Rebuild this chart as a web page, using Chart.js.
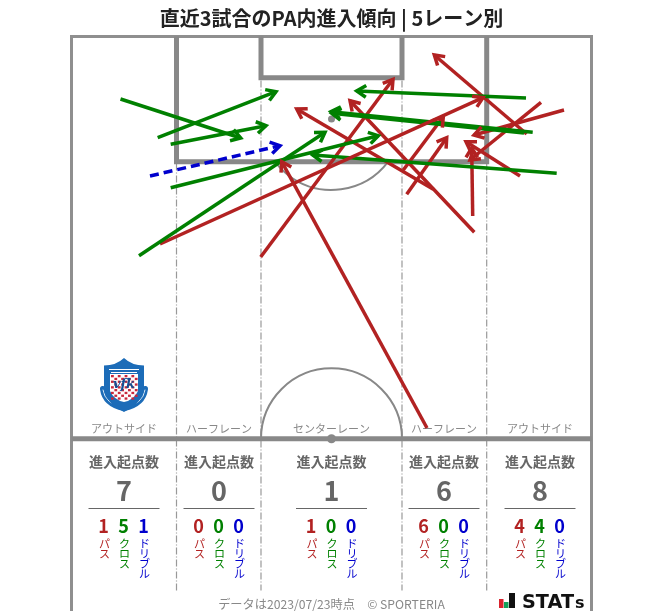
<!DOCTYPE html>
<html lang="ja">
<head>
<meta charset="utf-8">
<style>html,body{margin:0;padding:0;background:#fff}canvas{display:block}</style>
<script src="https://cdn.jsdelivr.net/npm/chart.js@4/dist/chart.umd.min.js"></script>
</head>
<body>
<canvas id="c" width="663" height="611"></canvas>
<script>
// Arrows in pitch units: [fromX, fromY, toX, toY]; x from left touchline, y from the goal line
const passArrows = [
  [355.5,391.5,210.2,125.2],[88.5,207.5,411.5,61.2],[189.2,220.5,321.5,42.8],
  [361.8,152.8,225.2,72.5],[402.8,195.8,278.5,64.2],[331.8,133.5,371.8,80.2],
  [335.2,157.8,375.2,101.2],[401.2,179.5,400.2,111.5],[455.2,97.5,362.8,18.5],
  [469.5,65.8,398.5,123.5],[492.5,73.5,402.5,98.5],[448.5,139.5,394.5,105.2]
];
const crossArrows = [
  [49,62.5,169.2,101.5],[86.2,101.2,204.5,55.2],[99.2,107.8,194.5,89.2],
  [99.2,151.2,306.8,99.2],[67.5,219.2,253.5,95.8],[485.2,136.8,241.2,118.5],
  [454.5,61.5,285.2,54.5],[461.2,95.8,259.5,75.2],[452.5,96.5,260.2,76.8]
];
const dribbleArrows = [[78.5,139.5,208.5,109.2]];
const laneNames = ['アウトサイド','ハーフレーン','センターレーン','ハーフレーン','アウトサイド'];
const totals = [7,0,1,6,8];
const passes = [1,0,1,6,4];
const crosses = [5,0,0,0,4];
const dribbles = [1,0,0,0,0];
const titleText = '直近3試合のPA内進入傾向 | 5レーン別';
const footerText = 'データは2023/07/23時点　© SPORTERIA';

const FONT = '"Noto Sans CJK JP","Noto Sans",sans-serif';
const RED = '#b22222', GREEN = '#008000', BLUE = '#0000cd', GRAY = '#888888', TEXT = '#666666';
const laneX = [124,219,331.5,444,540];

function arrowSet(list, color, dash){
  return list.map(a => ({
    data:[{x:a[0],y:a[1]},{x:a[2],y:a[3]}],
    showLine:true, pointRadius:0, borderColor:color, borderWidth:3.5,
    borderDash:dash||[], borderCapStyle:'butt', clip:false, arrowHead:true
  }));
}

const pitchPlugin = {
  id:'pitch',
  beforeDatasetsDraw(chart){
    const c = chart.ctx, X = v=>chart.scales.x.getPixelForValue(v), Y = v=>chart.scales.y.getPixelForValue(v);
    const line = (pts,w,col,dash)=>{
      c.save();c.beginPath();c.lineWidth=w;c.strokeStyle=col;c.setLineDash(dash||[]);c.lineCap='butt';c.lineJoin='miter';
      pts.forEach((p,i)=>i?c.lineTo(X(p[0]),Y(p[1])):c.moveTo(X(p[0]),Y(p[1])));c.stroke();c.restore();
    };
    // lane separators
    const dd=[7,2,1,2];
    line([[105,127],[105,554]],1.2,'#999',dd);
    line([[189.5,44],[189.5,554]],1.2,'#999',dd);
    line([[330.5,44],[330.5,554]],1.2,'#999',dd);
    line([[415.2,127],[415.2,554]],1.2,'#999',dd);
    // arcs
    c.save();c.lineWidth=2;c.strokeStyle=GRAY;
    c.beginPath();c.arc(X(260),Y(402.3),70.5,Math.PI,0);c.stroke();
    c.beginPath();c.arc(X(260),Y(82.5),71,0.65,Math.PI-0.65);c.stroke();
    c.fillStyle=GRAY;
    c.beginPath();c.arc(X(260),Y(82.5),3.5,0,7);c.fill();
    c.beginPath();c.arc(X(260),Y(402.3),4.5,0,7);c.fill();
    c.restore();
    // boxes and lines
    line([[0,574.5],[0,0],[520,0],[520,574.5]],3,'#8f8f8f');
    line([[105,0],[105,125.3],[415.2,125.3],[415.2,0]],5,GRAY);
    line([[189.5,0],[189.5,41.2],[330.5,41.2],[330.5,0]],5,GRAY);
    line([[0,402.3],[520,402.3]],5,GRAY);

    // lane labels and counts
    c.save();c.textAlign='center';c.textBaseline='middle';
    laneNames.forEach((n,i)=>{
      const x=laneX[i];
      c.font='11px '+FONT;c.fillStyle=GRAY;c.fillText(n,x,428.5);
      c.font='bold 14px '+FONT;c.fillStyle=TEXT;c.fillText('進入起点数',x,462);
      c.font='bold 27px '+FONT;c.fillText(String(totals[i]),x,491);
      c.fillRect(x-35.5,508,71,1);
      const rows=[[passes[i],RED,'パス',-20],[crosses[i],GREEN,'クロス',0],[dribbles[i],BLUE,'ドリブル',20]];
      rows.forEach(r=>{
        c.fillStyle=r[1];
        c.font='bold 18px '+FONT;c.fillText(String(r[0]),x+r[3]-0.5,526);
        c.font='11px '+FONT;
        Array.from(r[2]).forEach((ch,k)=>c.fillText(ch,x+r[3]+0.5,543.5+k*10));
      });
    });
    c.font='12.2px '+FONT;c.fillStyle='#888';c.fillText(footerText,331.5,604);
    c.restore();

    // club badge
    c.save();c.translate(124,385);
    const shield=(w,h)=>{c.beginPath();c.moveTo(-w,-h*0.72);c.quadraticCurveTo(-w*0.4,-h*0.72,0,-h);c.quadraticCurveTo(w*0.4,-h*0.72,w,-h*0.72);
      c.lineTo(w,h*0.25);c.quadraticCurveTo(w*0.75,h*0.75,0,h);c.quadraticCurveTo(-w*0.75,h*0.75,-w,h*0.25);c.closePath();};
    // side ribbon
    c.strokeStyle='#1c6cb8';c.lineWidth=6;c.lineCap='round';c.beginPath();c.moveTo(-21,4);c.quadraticCurveTo(-19,19,0,23);c.quadraticCurveTo(19,19,21,4);c.stroke();
    c.strokeStyle='#d8e8f6';c.lineWidth=1;c.beginPath();c.moveTo(-21,5);c.quadraticCurveTo(-19,19,0,23);c.quadraticCurveTo(19,19,21,5);c.stroke();
    // shield
    c.fillStyle='#1c6cb8';shield(20,27);c.fill();
    c.fillStyle='#fff';c.fillRect(-15,-16,30,1);
    c.fillRect(-13,-13,26,1);
    c.beginPath();c.moveTo(-14,-11);c.lineTo(14,-11);c.lineTo(14,6);c.quadraticCurveTo(10,15,0,17);c.quadraticCurveTo(-10,15,-14,6);c.closePath();c.fill();
    c.fillStyle='#c8283c';
    for(let r=0;r<9;r++)for(let q=0;q<8;q++){ if((r+q)%2===0) c.fillRect(-13+q*3.4,-10+r*2.8,2.8,2.3); }
    c.fillStyle='#164f94';c.font='bold italic 13px "DejaVu Serif",serif';c.textAlign='center';c.textBaseline='middle';c.fillText('vfk',0,0);
    c.restore();

    // STATS mark
    c.save();
    c.fillStyle='#d9232e';c.fillRect(499,599,4.5,9);
    c.fillStyle='#12a05a';c.fillRect(504,602,4.5,6);
    c.fillStyle='#111';c.fillRect(509,593,6,15);
    c.font='bold 19.5px "DejaVu Sans",sans-serif';c.textAlign='left';c.textBaseline='alphabetic';
    c.fillText('STAT',522,608,52);
    c.font='bold 16px "DejaVu Sans",sans-serif';c.fillText('s',575,608,11);
    c.restore();
  },
  afterDatasetsDraw(chart){
    const c = chart.ctx;
    chart.data.datasets.forEach((ds,i)=>{
      if(!ds.arrowHead) return;
      const pts = chart.getDatasetMeta(i).data, a=pts[0], b=pts[1];
      const t = Math.atan2(b.y-a.y,b.x-a.x), L=11, s=0.56;
      c.save();c.strokeStyle=ds.borderColor;c.lineWidth=3.5;c.lineJoin='miter';c.setLineDash([]);
      c.beginPath();
      c.moveTo(b.x-L*Math.cos(t-s),b.y-L*Math.sin(t-s));
      c.lineTo(b.x,b.y);
      c.lineTo(b.x-L*Math.cos(t+s),b.y-L*Math.sin(t+s));
      c.stroke();c.restore();
    });
  }
};

new Chart(document.getElementById('c'),{
  type:'scatter',
  data:{datasets:[
    ...arrowSet(passArrows.slice(0,1),RED),
    ...arrowSet(crossArrows.slice(0,5),GREEN),
    ...arrowSet(passArrows.slice(1,2),RED),
    ...arrowSet(crossArrows.slice(5),GREEN),
    ...arrowSet(passArrows.slice(2),RED),
    ...arrowSet(dribbleArrows,BLUE,[9,5])
  ]},
  options:{
    responsive:false, animation:false, events:[],
    layout:{padding:0},
    scales:{
      x:{type:'linear',display:false,min:-71.5,max:591.5},
      y:{type:'linear',display:false,reverse:true,min:-0.5,max:574.5}
    },
    plugins:{
      legend:{display:false},tooltip:{enabled:false},
      title:{display:true,text:titleText,color:'#222',
        font:{family:FONT,size:20,weight:'bold',lineHeight:1.2},
        padding:{top:6,bottom:6}}
    }
  },
  plugins:[pitchPlugin]
});
</script>
</body>
</html>
